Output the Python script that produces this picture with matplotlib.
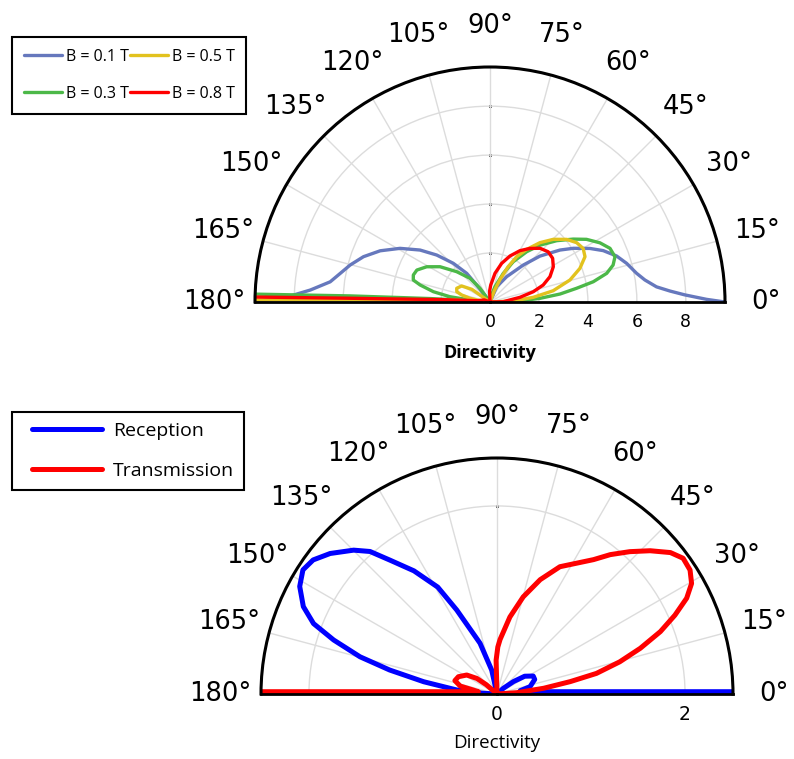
import numpy as np
import matplotlib.pyplot as plt
from matplotlib.legend_handler import HandlerLine2D

# Directividad vs angulo: arriba para varios campos B, abajo recepcion/transmision
# angulos en grados, directividad leida del patron

b01_th = [0, 0.7, 2.1, 3.5, 5.2, 8.1, 11.1, 15.8, 20, 24.4, 28.2, 32.8, 36.6, 42.6, 48, 56.6, 66.4, 72,
          125, 128, 129.1, 133.5, 138.6, 143.4, 149.2, 155, 160.3, 165.2, 169.2, 172.8, 176.2, 178.3, 179.3, 180]
b01_r = [9.6, 8.85, 7.96, 7.36, 6.83, 6.39, 6.10, 5.80, 5.50, 5.08, 4.63, 4.05, 3.56, 2.77, 2.03, 1.24, 0.68, 0,
         0, 0.88, 1.51, 2.18, 2.90, 3.56, 4.28, 4.95, 5.49, 5.91, 6.23, 6.58, 7.36, 8.17, 8.85, 9.7]

b03_th = [0, 0.7, 4.2, 6.5, 9.0, 11.1, 13.8, 16.7, 19.9, 24.1, 28.3, 33, 37.1, 42.6, 48.7, 53.9, 60, 65.1, 71.9, 78, 84,
          122, 126.1, 130.2, 137.7, 144.8, 150.9, 156.4, 160.6, 164, 166.3, 169.7, 172.5, 174.3, 175.5, 176.7, 177.5, 178.1]
b03_r = [0, 0.95, 2.05, 2.88, 3.58, 4.30, 4.91, 5.25, 5.43, 5.37, 5.10, 4.70, 4.26, 3.70, 3.09, 2.54, 1.90, 1.29, 0.66, 0.3, 0,
         0, 0.69, 1.27, 1.84, 2.50, 2.96, 3.26, 3.32, 3.26, 2.94, 2.35, 1.65, 0.82, 0.6, 2.45, 5.72, 9.8]

b05_th = [0, 2.5, 6.2, 10.1, 15.4, 20.5, 25.5, 29.9, 34.4, 39.3, 44.7, 49.9, 55.1, 59.5, 63, 66, 69, 73,
          143, 145, 150.5, 157.6, 162.8, 166.1, 169.5, 172.6, 175, 177, 178, 179, 179.5]
b05_r = [0, 0.95, 1.78, 2.62, 3.39, 3.92, 4.30, 4.39, 4.29, 4.04, 3.64, 3.17, 2.62, 2.15, 1.6, 1.0, 0.5, 0,
         0, 0.9, 1.33, 1.47, 1.42, 1.19, 0.83, 0.41, 0.35, 1.56, 2.34, 4.68, 9.8]

b08_th = [0, 1.3, 8.9, 13.4, 17.7, 22.9, 29.1, 34.9, 40.8, 47, 53.3, 59.7, 66.5, 73.2, 80.1, 87.6, 92, 97,
          150, 160, 168, 174, 177.2, 178.2, 178.5, 178.8]
b08_r = [0, 0.54, 1.24, 1.82, 2.28, 2.66, 2.96, 3.12, 3.14, 3.00, 2.73, 2.43, 2.05, 1.65, 1.19, 0.69, 0.45, 0,
         0, 0.25, 0.35, 0.5, 2.0, 4.0, 6.0, 9.8]

rec_th = [0.54, 1.4, 2.8, 4.7, 8.2, 12.5, 21.1, 26.4, 32.7, 37, 42, 45, 93, 102.5, 108.5, 115.6, 119, 124, 128.6,
          131.7, 134.9, 139.9, 143.9, 147.4, 151.4, 155.7, 159, 161.7, 164.8, 167.4, 170.5, 174.3, 177, 180]
rec_r = [2.6, 1.0, 0.5, 0.3, 0.25, 0.36, 0.43, 0.43, 0.35, 0.22, 0.09, 0, 0, 0.26, 0.57, 0.99, 1.30, 1.58, 1.82,
         2.03, 2.16, 2.32, 2.42, 2.45, 2.39, 2.26, 2.09, 1.83, 1.51, 1.17, 0.79, 0.43, 0.15, 0]

tra_th = [0, 3.8, 7, 9.6, 11.7, 14.7, 17.7, 20.9, 23.9, 26.8, 29.6, 32.7, 36.1, 39.2, 43.1, 47, 50.9, 54.3, 63.7,
          69.3, 74.9, 80.5, 86.8, 89, 91.5, 93, 135, 138.9, 142.3, 147.9, 155.9, 162.4, 167.8, 170.4, 173, 175.3,
          177.2, 178.6, 179.46]
tra_r = [0, 0.21, 0.50, 0.79, 1.08, 1.35, 1.60, 1.86, 2.07, 2.26, 2.38, 2.44, 2.45, 2.38, 2.23, 2.07, 1.91, 1.76, 1.51,
         1.30, 1.07, 0.83, 0.58, 0.5, 0.36, 0, 0, 0.15, 0.27, 0.38, 0.45, 0.47, 0.40, 0.26, 0.2, 0.3,
         0.5, 1.0, 2.6]

grados = list(range(0, 181, 15))

W, H = 794, 759
fig = plt.figure(figsize=(W / 100, H / 100), dpi=100)


def semicirculo(cx, cy, radio, rmax, rticks):
    # la caja polar es cuadrada; el semicirculo ocupa su mitad central
    lado = 2 * radio
    yc = cy - radio / 2
    rect = [(cx - radio) / W, 1 - (yc + radio) / H, lado / W, lado / H]
    ax = fig.add_axes(rect, projection='polar')
    ax.set_thetamin(0)
    ax.set_thetamax(180)
    ax.set_rlim(0, rmax)
    ax.set_xticks(np.radians(grados))
    ax.set_xticklabels(['{}°'.format(g) for g in grados], family='DejaVu Sans')
    ax.set_yticks(rticks)
    ax.set_yticklabels([str(t) for t in rticks], family='Open Sans')
    ax.grid(color='#dcdcdc', lw=1)
    ax.spines['polar'].set_linewidth(2.2)
    ax.spines['start'].set_linewidth(2)
    ax.spines['end'].set_linewidth(2)
    ax.tick_params(axis='x', labelsize=18.5, pad=19)
    ax.tick_params(axis='y', direction='in', length=4, width=1, pad=8)
    # marcas pequenas sobre el eje de 90 grados
    ax.plot(np.full(len(rticks) - 1, np.pi / 2), rticks[1:], 'k.', ms=2.5, zorder=1)
    return ax


estilo = dict(solid_joinstyle='round', solid_capstyle='round')

ax1 = semicirculo(490, 302, 235, 9.6, [0, 2, 4, 6, 8])
ax1.tick_params(axis='y', labelsize=12.5)
ax1.plot(np.radians(b01_th), b01_r, color='#6678bd', lw=2.4, label='B = 0.1 T', **estilo)
ax1.plot(np.radians(b03_th), b03_r, color='#4cb848', lw=2.4, label='B = 0.3 T', **estilo)
ax1.plot(np.radians(b05_th), b05_r, color='#e2c21e', lw=2.4, label='B = 0.5 T', **estilo)
ax1.plot(np.radians(b08_th), b08_r, color='#ff0000', lw=2.4, label='B = 0.8 T', **estilo)
fig.text(490 / W, 1 - 353 / H, 'Directivity', ha='center', va='center',
         fontsize=13, fontweight='bold', family='Open Sans')
leg1 = fig.legend(*ax1.get_legend_handles_labels(), loc='upper left',
                  bbox_to_anchor=(12 / W, 1 - 37 / H), ncol=2,
                  prop={'family': 'Open Sans', 'size': 11.5}, handlelength=2.4,
                  handletextpad=0.2, columnspacing=0.1, labelspacing=1.3,
                  borderpad=0.75, borderaxespad=0, fancybox=False, framealpha=1,
                  edgecolor='black', handler_map={plt.Line2D: HandlerLine2D(marker_pad=0)})
leg1.get_frame().set_linewidth(1.5)

ax2 = semicirculo(497, 694, 236, 2.51, [0, 2])
ax2.tick_params(axis='y', labelsize=13.5)
ax2.plot(np.radians(rec_th), rec_r, color='#0000ff', lw=3.6, label='Reception', **estilo)
ax2.plot(np.radians(tra_th), tra_r, color='#ff0000', lw=3.6, label='Transmission', **estilo)
fig.text(497 / W, 1 - 743 / H, 'Directivity', ha='center', va='center',
         fontsize=13.5, family='Open Sans')
leg2 = fig.legend(*ax2.get_legend_handles_labels(), loc='upper left',
                  bbox_to_anchor=(12 / W, 1 - 412 / H), numpoints=2,
                  prop={'family': 'Open Sans', 'size': 14}, handlelength=4.7,
                  handletextpad=0.0, labelspacing=1.15, borderpad=0.5,
                  borderaxespad=0, fancybox=False, framealpha=1, edgecolor='black',
                  handler_map={plt.Line2D: HandlerLine2D(marker_pad=0.55)})
leg2.get_frame().set_linewidth(1.5)

fig.savefig('out.png', dpi=100, facecolor='white')
